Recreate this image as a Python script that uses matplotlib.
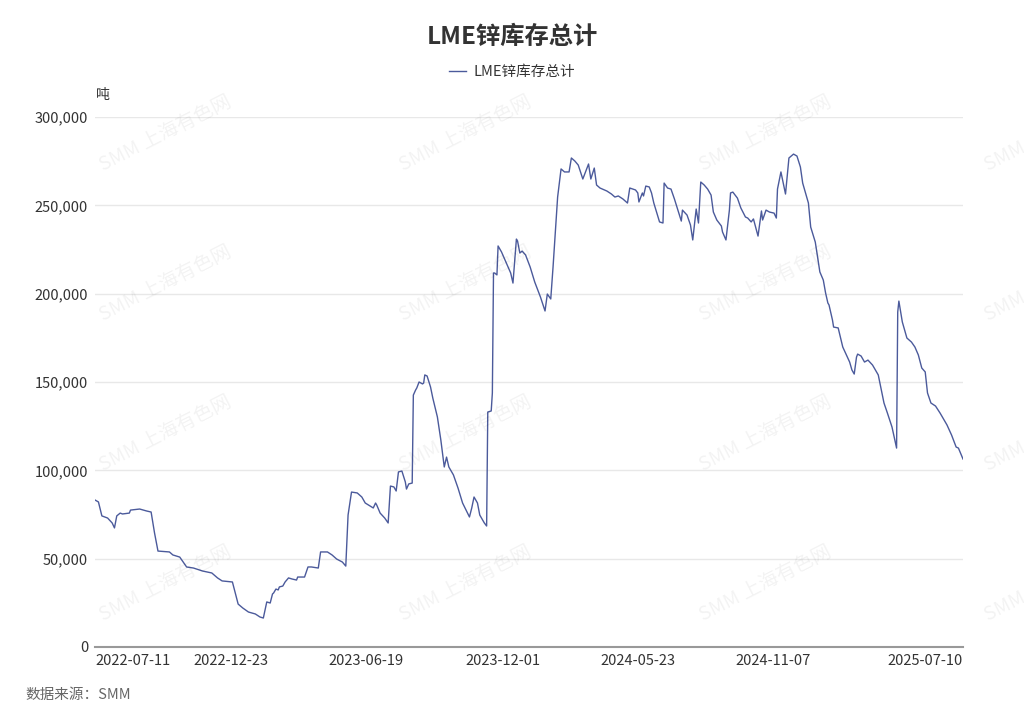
import matplotlib.pyplot as plt
from matplotlib.ticker import FuncFormatter

plt.rcParams["font.family"] = ["Noto Sans CJK SC", "DejaVu Sans"]

# trading-day index (category axis) and LME zinc stocks in thousand tonnes
day_idx = [
    0, 3, 6, 11, 15, 17, 19, 22, 24, 30, 31, 39, 45, 49, 52, 55, 65, 68, 74, 80,
    86, 94, 102, 107, 111, 120, 125, 129, 134, 140, 144, 147, 150, 153, 155, 156, 158, 160, 161, 164,
    166, 169, 172, 176, 177, 183, 186, 189, 195, 197, 203, 207, 211, 216, 219, 221, 224, 229, 233, 236,
    243, 245, 246, 249, 253, 256, 258, 261, 263, 265, 268, 271, 272, 274, 277, 278, 280, 281, 283, 286,
    287, 288, 290, 293, 295, 299, 302, 305, 307, 309, 313, 317, 321, 327, 329, 331, 334, 336, 340, 342,
    343, 346, 347, 348, 349, 351, 352, 355, 358, 361, 363, 365, 368, 369, 371, 373, 376, 380, 384, 389,
    393, 395, 398, 400, 404, 407, 410, 414, 416, 419, 422, 424, 426, 431, 433, 436, 438, 441, 447, 451,
    454, 457, 461, 465, 467, 472, 474, 475, 478, 479, 481, 484, 486, 488, 493, 496, 497, 500, 503, 506,
    509, 512, 513, 517, 520, 522, 525, 527, 529, 532, 535, 538, 540, 543, 547, 548, 551, 554, 555, 557,
    561, 564, 568, 570, 573, 575, 579, 582, 583, 586, 589, 593, 595, 596, 599, 603, 606, 610, 613, 616,
    618, 623, 625, 629, 633, 636, 638, 640, 641, 644, 645, 649, 653, 657, 659, 661, 663, 665, 666, 669,
    672, 675, 679, 684, 689, 692, 696, 700, 701, 702, 705, 709, 713, 716, 719, 722, 725, 727, 730, 734,
    738, 744, 748, 752, 754, 758,
]
stock_kt = [
    83.2, 82.1, 74.2, 73.0, 70.2, 67.4, 74.2, 75.8, 75.3, 75.8, 77.5, 78.1, 77.0, 76.4, 64.5, 54.3, 53.8, 52.1, 50.9, 45.3,
    44.7, 43.0, 41.9, 39.1, 37.4, 36.8, 24.3, 22.1, 19.8, 18.7, 17.0, 16.4, 25.5, 24.9, 30.0, 30.6, 32.8, 32.3, 34.0, 34.5,
    36.8, 39.1, 38.5, 37.9, 39.6, 39.6, 45.3, 45.3, 44.7, 53.8, 53.8, 52.1, 49.8, 48.1, 45.8, 74.7, 87.7, 87.2, 84.9, 81.5,
    78.7, 81.5, 80.4, 75.8, 73.0, 70.2, 91.1, 90.6, 88.3, 99.1, 99.6, 93.4, 89.4, 92.3, 92.8, 142.6, 145.5, 146.6, 150.0, 148.9,
    149.4, 154.0, 153.4, 147.2, 140.9, 130.2, 117.2, 101.9, 107.5, 101.9, 97.4, 90.0, 81.5, 73.6, 78.7, 84.9, 81.5, 74.7, 70.2, 68.5,
    133.0, 133.6, 143.8, 211.7, 211.7, 210.6, 227.0, 223.6, 219.1, 214.5, 211.7, 206.0, 230.9, 229.8, 223.0, 224.1, 221.9, 215.1, 206.6, 198.1,
    190.2, 199.8, 197.0, 215.1, 254.7, 270.6, 268.9, 268.9, 276.8, 275.1, 272.8, 268.9, 264.9, 273.4, 264.9, 271.1, 261.5, 259.8, 258.1, 256.4,
    254.7, 255.3, 253.6, 251.3, 259.8, 258.7, 257.0, 251.9, 257.0, 255.3, 260.9, 260.4, 257.0, 251.3, 240.6, 240.0, 262.6, 259.8, 259.2, 253.6,
    247.3, 241.1, 247.3, 244.5, 238.9, 230.4, 247.9, 240.0, 263.2, 261.5, 259.2, 255.8, 246.2, 241.7, 238.3, 234.9, 230.4, 247.3, 257.0, 257.5,
    254.1, 248.5, 243.4, 242.8, 240.6, 242.3, 232.6, 246.8, 241.7, 247.3, 246.2, 245.6, 242.8, 259.2, 268.9, 256.4, 276.8, 279.0, 277.9, 271.7,
    262.6, 251.3, 237.7, 229.2, 212.3, 207.7, 200.4, 194.7, 193.6, 185.1, 181.1, 180.6, 169.8, 164.1, 161.3, 156.8, 154.5, 164.1, 165.8, 164.7,
    161.3, 162.4, 159.6, 154.0, 138.1, 132.4, 124.5, 112.6, 189.6, 195.8, 184.0, 174.9, 172.6, 169.8, 165.3, 157.9, 155.7, 143.8, 138.1, 136.4,
    132.4, 125.7, 120.0, 113.2, 112.6, 106.4,
]
stock_t = [v * 1000 for v in stock_kt]

tick_idx = [0, 119, 237, 356, 474, 592, 758]
tick_labels = ["2022-07-11", "2022-12-23", "2023-06-19", "2023-12-01",
               "2024-05-23", "2024-11-07", "2025-07-10"]
y_ticks = [0, 50000, 100000, 150000, 200000, 250000, 300000]

line_color = "#4B5A9B"
text_color = "#333333"

fig = plt.figure(figsize=(10.24, 7.22), dpi=100)
ax = fig.add_axes([95 / 1024, 75 / 722, 868 / 1024, 530 / 722])

# watermark (the right column is cut by the edge, as in the original)
for wx in [165, 465, 765, 1050]:
    for wy in [133, 283, 433, 583]:
        fig.text(wx / 1024, 1 - wy / 722, "SMM 上海有色网", fontsize=14,
                 color="#000000", alpha=0.05, rotation=27,
                 ha="center", va="center", zorder=0)

ax.plot(day_idx, stock_t, color=line_color, linewidth=1.0, label="LME锌库存总计")

ax.set_xlim(0, 758)
ax.set_ylim(0, 300000)
ax.set_yticks(y_ticks)
ax.yaxis.set_major_formatter(FuncFormatter(lambda v, p: f"{int(v):,}"))
ax.set_xticks(tick_idx)
ax.set_xticklabels(tick_labels)
labels = ax.get_xticklabels()
labels[0].set_ha("left")
labels[-1].set_ha("right")

ax.grid(axis="y", color="#e8e8e8", linewidth=1)
ax.set_axisbelow(True)
for s in ["top", "right", "left"]:
    ax.spines[s].set_visible(False)
ax.spines["bottom"].set_color("#999999")
ax.spines["bottom"].set_linewidth(1.5)
ax.tick_params(axis="both", length=0, labelsize=10.5, colors=text_color)
ax.tick_params(axis="y", pad=5)
ax.tick_params(axis="x", pad=5)

fig.text(0.5, 1 - 37 / 722, "LME锌库存总计", fontsize=17.5, fontweight="bold",
         color="#333333", ha="center", va="center")
ax.legend(loc="upper center", bbox_to_anchor=(0.5, 1 - 52 / 722),
          bbox_transform=fig.transFigure, frameon=False,
          fontsize=10.5, handlelength=1.2, handletextpad=0.5, labelcolor=text_color)
fig.text(96 / 1024, 1 - 95 / 722, "吨", fontsize=10, color=text_color,
         ha="left", va="center")
fig.text(25 / 1024, 1 - 695 / 722, "数据来源：SMM", fontsize=10.5, color="#666666",
         style="italic", ha="left", va="center")

fig.savefig("out.png", dpi=100)
